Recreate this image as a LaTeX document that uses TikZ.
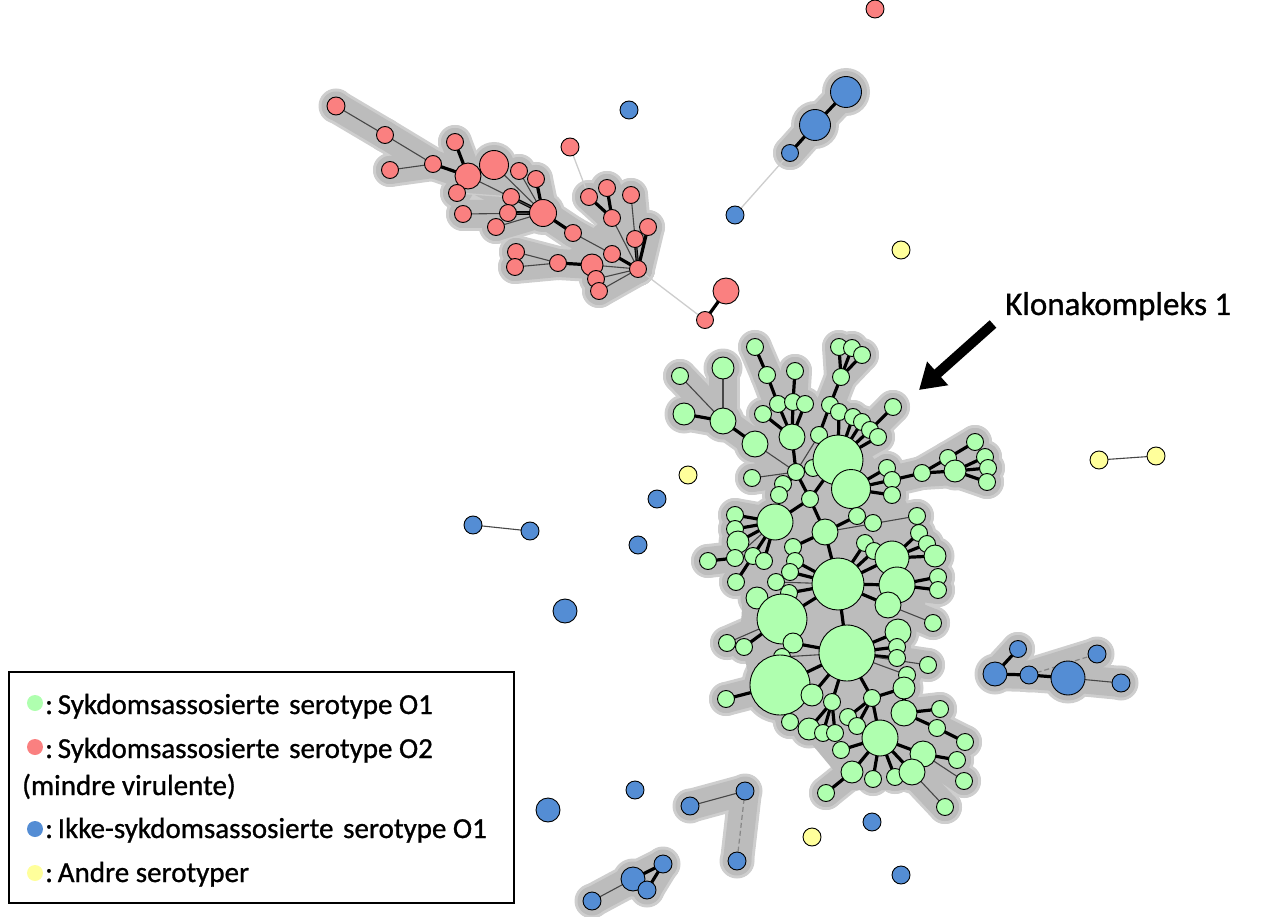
\documentclass[tikz,border=0pt]{standalone}
\usepackage{fontspec}
\setmainfont{Carlito}
\newfontfamily\heavyfont{Carlito}[FakeBold=0.9]
\usetikzlibrary{arrows.meta}
\definecolor{gfill}{RGB}{175,255,175}
\definecolor{rfill}{RGB}{250,128,128}
\definecolor{bfill}{RGB}{84,141,212}
\definecolor{yfill}{RGB}{255,255,155}
\definecolor{haloin}{RGB}{188,188,188}
\definecolor{haloout}{RGB}{206,206,206}
\definecolor{edgegray}{RGB}{70,70,70}
\definecolor{palegray}{RGB}{205,205,205}
\definecolor{dashgray}{RGB}{135,135,135}
\pgfdeclarelayer{haloA}
\pgfdeclarelayer{haloB}
\pgfdeclarelayer{edges}
\pgfsetlayers{haloA,haloB,edges,main}
\tikzset{
  nd/.style={circle, draw=black, line width=0.9pt, inner sep=0pt, outer sep=0pt},
  gn/.style={nd, fill=gfill},
  rn/.style={nd, fill=rfill},
  bn/.style={nd, fill=bfill},
  yn/.style={nd, fill=yfill},
  thk/.style={line width=3.2pt, black},
  thn/.style={line width=1.1pt, edgegray},
  pale/.style={line width=1.3pt, palegray},
  paledash/.style={line width=1.2pt, dashgray, dash pattern=on 5pt off 3pt},
  hA/.style={haloout, line width=34pt, line cap=round},
  hB/.style={haloin, line width=28pt, line cap=round},
  legtext/.style={anchor=base west, inner sep=0pt, font=\heavyfont\fontsize{29}{34}\selectfont},
}
% ---------- node lists (name/x/y/r)
\def\redH{R1/336/106/9, R2/385/135/8.5, R3/390/170/8.5, R4/433/164/8.5, R5/455/142/8.5,
 R6/468/176/13, R7/494/165/14.5, R8/457/193/8.5, R9/519/171/8.5, R10/536/179/8.5,
 R11/511/197/8.5, R12/543/213/13.5, R13/463/214/8.5, R14/508/213/8.5, R15/496/227/8.5,
 R16/573/233/8.5, R18/589/197/8.5, R19/607/188/8.5, R20/631/195/8.5, R21/612/218/8.5,
 R22/648/227/8.5, R23/635/239/8.5, R24/612/254/8.5, R25/638/269/8.5, R26/516/252/8.5,
 R27/515/267/8.5, R28/558/263/8.5, R29/592/265/11, R30/596/279/8.5, R31/599/291/8.5}
\def\redP{R17/570/147/9, R32/705/320/8.5, R33/726/291/13, R34/875/9/9}
\def\blueH{B2/846/92/15.5, B3/815/125/15.5, B4/790/153/8.5, B11/1018/649/8.5,
 B12/995/674/12, B13/1029/675/9, B14/1068/678/17, B15/1097/654/9, B16/1121/683/9,
 B19/690/806/9, B20/745/791/9, B21/737/861/9, B22/592/901/9, B23/633/879/12,
 B24/663/864/9, B25/647/890/9}
\def\blueP{B1/629/110/9, B5/735/215/9, B6/473/525/9, B7/530/531/9, B8/657/499/9,
 B9/638/545/9, B10/565/611/12, B17/548/810/12, B18/635/790/9, B26/872/822/9, B27/901/875/9}
\def\yellowP{Y1/901/250/9, Y2/688/475/9, Y3/1099/460/9, Y4/1156/456/9, Y5/812/837/9}
\def\greenH{G1/755/347/8.5, G2/680/376/8.5, G3/723/368/11, G4/684/414/11, G5/723/421/13,
 G6/767/375/8.5, G7/795/371/8.5, G8/755/444/13, G9/778/404/8.5, G10/793/402/8.5,
 G11/805/404/8.5, G12/763/414/8.5, G13/792/437/13, G14/819/435/8.5, G15/752/478/8.5,
 G16/796/472/8.5, G17/813/468/8.5, G18/783/484/8.5, G19/779/495/8.5, G20/810/499/8.5,
 G21/830/405/8.5, G22/838/460/25, G23/851/489/19.5, G24/839/347/8.5, G25/852/348/8.5,
 G26/862/355/8.5, G27/841/377/8.5, G28/839/412/8.5, G29/853/417/8.5, G30/862/422/8.5,
 G31/870/430/8.5, G32/878/437/8.5, G33/893/407/8.5, G34/887/468/8.5, G35/892/480/8.5,
 G36/892/495/8.5, G37/922/473/8.5, G38/948/458/8.5, G39/955/471/11, G40/975/442/8.5,
 G41/985/457/8.5, G42/988/468/8.5, G43/987/482/8.5, G44/775/522/18, G45/735/515/8.5,
 G46/735/529/8.5, G47/738/542/11, G48/825/532/13, G49/857/516/8.5, G50/873/523/8.5,
 G51/917/516/8.5, G52/708/561/8.5, G53/735/558/8.5, G54/753/556/8.5, G55/764/561/8.5,
 G56/736/582/8.5, G57/793/547/8.5, G58/795/561/8.5, G59/790/572/8.5, G60/776/582/8.5,
 G61/789/593/8.5, G62/757/598/11, G63/838/584/26, G64/782/619/25, G65/793/643/10,
 G66/727/643/8.5, G67/744/647/8.5, G68/847/653/28, G69/782/657/8.5, G70/919/533/8.5,
 G71/927/544/8.5, G72/935/556/11, G73/865/543/8.5, G74/874/551/8.5, G75/892/558/17,
 G76/897/585/18, G77/938/577/8.5, G78/938/590/8.5, G79/888/605/13, G80/933/623/8.5,
 G81/898/632/13, G82/897/647/8.5, G83/897/658/8.5, G84/928/665/8.5, G85/907/675/8.5,
 G86/904/688/11, G87/780/685/30, G88/872/698/8.5, G89/812/695/11, G90/832/702/8.5,
 G91/726/699/8.5, G92/790/722/8.5, G93/809/729/11, G94/823/733/8.5, G95/835/733/8.5,
 G96/848/717/8.5, G97/857/726/8.5, G98/880/738/18, G99/904/713/13, G100/940/709/8.5,
 G101/937/728/8.5, G102/965/742/8.5, G103/841/750/8.5, G104/923/754/13, G105/957/760/8.5,
 G106/852/772/11, G107/873/779/8.5, G108/895/777/8.5, G109/912/772/13, G110/964/781/8.5,
 G111/826/793/8.5, G112/945/807/8.5}
% ---------- edge lists (a/b)
\def\thkH{R4/R6, R5/R6, R6/R8, R6/R7, R10/R12, R11/R12, R14/R12, R12/R16, R24/R25,
 R18/R21, R19/R21, R22/R25, R23/R25, R28/R29,
 B2/B3, B3/B4, B11/B12, B12/B13, B13/B14, B23/B24, B24/B25,
 G1/G6, G6/G9, G7/G10, G9/G13, G10/G13, G11/G13, G12/G13, G13/G16, G4/G5, G5/G8,
 G16/G17, G16/G18, G16/G19, G16/G20, G21/G14, G24/G27, G25/G27, G26/G27, G27/G21,
 G28/G22, G29/G22, G30/G22, G31/G22, G32/G22, G33/G31, G34/G23, G35/G23, G36/G23,
 G37/G35, G37/G38, G37/G39, G38/G40, G39/G41, G39/G42, G39/G43, G20/G22, G20/G44,
 G20/G48, G48/G49, G48/G57, G48/G63, G44/G45, G44/G46, G44/G47, G44/G54, G44/G55,
 G52/G53, G56/G54, G58/G63, G59/G63, G61/G63, G62/G64, G63/G64, G73/G63, G74/G63,
 G75/G63, G76/G63, G79/G63, G70/G75, G71/G75, G72/G75, G77/G76, G78/G76, G63/G68,
 G65/G68, G87/G68, G67/G64, G81/G68, G82/G68, G83/G68, G89/G68, G90/G68, G88/G68,
 G88/G86, G86/G99, G91/G87, G92/G87, G93/G90, G94/G90, G95/G90, G96/G88, G97/G88,
 G88/G98, G99/G100, G99/G101, G101/G102, G98/G103, G98/G106, G98/G107, G98/G108,
 G98/G109, G98/G104, G104/G105, G106/G111}
\def\thnH{R1/R2, R2/R4, R3/R4, R6/R12, R7/R12, R9/R12, R13/R12, R15/R12, R16/R24,
 R21/R25, R20/R25, R26/R28, R27/R28, R29/R25, R30/R25, R31/R25,
 B14/B16, B19/B20, B22/B23,
 G2/G5, G3/G5, G8/G16, G14/G16, G15/G16, G48/G51, G44/G53, G60/G63, G79/G80,
 G69/G68, G66/G64, G84/G68, G85/G68, G104/G110, G109/G112}
\def\dashH{B13/B15, B20/B21}
\def\thkP{R32/R33}
\def\thnP{B6/B7, Y3/Y4}
\def\paleP{R8/R11, R17/R18, R25/R32, B4/B5}
\begin{document}
\begin{tikzpicture}[x=1pt,y=-1pt]
\useasboundingbox (0,0) rectangle (1282,917);
% ---------- nodes
\foreach \n/\x/\y/\r in \redH {\node[rn, minimum size=2*\r pt] (\n) at (\x,\y) {};}
\foreach \n/\x/\y/\r in \redP {\node[rn, minimum size=2*\r pt] (\n) at (\x,\y) {};}
\foreach \n/\x/\y/\r in \blueH {\node[bn, minimum size=2*\r pt] (\n) at (\x,\y) {};}
\foreach \n/\x/\y/\r in \blueP {\node[bn, minimum size=2*\r pt] (\n) at (\x,\y) {};}
\foreach \n/\x/\y/\r in \yellowP {\node[yn, minimum size=2*\r pt] (\n) at (\x,\y) {};}
\foreach \n/\x/\y/\r in \greenH {\node[gn, minimum size=2*\r pt] (\n) at (\x,\y) {};}
% ---------- halos
\begin{pgfonlayer}{haloA}
\foreach \n/\x/\y/\r in \redH {\fill[haloout] (\n.center) circle[radius=\r pt+8.5pt];}
\foreach \n/\x/\y/\r in \blueH {\fill[haloout] (\n.center) circle[radius=\r pt+8.5pt];}
\foreach \n/\x/\y/\r in \greenH {\fill[haloout] (\n.center) circle[radius=\r pt+8.5pt];}
\foreach \a/\b in \thkH {\draw[hA] (\a.center) -- (\b.center);}
\foreach \a/\b in \thnH {\draw[hA] (\a.center) -- (\b.center);}
\foreach \a/\b in \dashH {\draw[hA] (\a.center) -- (\b.center);}
\end{pgfonlayer}
\begin{pgfonlayer}{haloB}
\foreach \n/\x/\y/\r in \redH {\fill[haloin] (\n.center) circle[radius=\r pt+5.5pt];}
\foreach \n/\x/\y/\r in \blueH {\fill[haloin] (\n.center) circle[radius=\r pt+5.5pt];}
\foreach \n/\x/\y/\r in \greenH {\fill[haloin] (\n.center) circle[radius=\r pt+5.5pt];}
\foreach \a/\b in \thkH {\draw[hB] (\a.center) -- (\b.center);}
\foreach \a/\b in \thnH {\draw[hB] (\a.center) -- (\b.center);}
\foreach \a/\b in \dashH {\draw[hB] (\a.center) -- (\b.center);}
% interior fill of the large green complex
\fill[haloin] (745,440) -- (800,395) -- (860,440) -- (905,500) -- (925,540) -- (925,610)
  -- (885,690) -- (930,735) -- (905,790) -- (850,790) -- (800,730) -- (755,700)
  -- (740,640) -- (745,560) -- (770,500) -- cycle;
\fill[haloin] (600,222) -- (625,240) -- (600,262) -- (570,250) -- cycle;
\end{pgfonlayer}
% ---------- edges
\begin{pgfonlayer}{edges}
\foreach \a/\b in \thkH {\draw[thk] (\a.center) -- (\b.center);}
\foreach \a/\b in \thnH {\draw[thn] (\a.center) -- (\b.center);}
\foreach \a/\b in \dashH {\draw[paledash] (\a.center) -- (\b.center);}
\foreach \a/\b in \thkP {\draw[thk] (\a.center) -- (\b.center);}
\foreach \a/\b in \thnP {\draw[thn] (\a.center) -- (\b.center);}
\foreach \a/\b in \paleP {\draw[pale] (\a.center) -- (\b.center);}
\end{pgfonlayer}
% ---------- annotation
\node[anchor=base west, inner sep=0pt, font=\heavyfont\fontsize{33}{38}\selectfont] (klon) at (1005,315) {Klonakompleks 1};
\coordinate (arrS) at (993,324);
\coordinate (arrT) at (919,390);
\draw[line width=10pt, -{Triangle[length=25pt, width=30pt]}] (arrS) -- (arrT);
% ---------- legend
\node[draw=black, line width=2pt, minimum width=505pt, minimum height=231pt, anchor=north west, inner sep=0pt] (leg) at (8,671) {};
\node[circle, fill=gfill, minimum size=16pt, inner sep=0pt] (d1) at (35,703) {};
\node[circle, fill=rfill, minimum size=16pt, inner sep=0pt] (d2) at (35,747) {};
\node[circle, fill=bfill, minimum size=16pt, inner sep=0pt] (d3) at (35,829) {};
\node[circle, fill=yfill, minimum size=16pt, inner sep=0pt] (d4) at (35,873) {};
\node[legtext] (t1) at (45,714) {:\,Sykdomsassosierte\,\,serotype O1};
\node[legtext] (t2) at (45,758) {:\,Sykdomsassosierte\,\,serotype O2};
\node[legtext] (t3) at (22,795) {(mindre virulente)};
\node[legtext] (t4) at (45,838) {:\,Ikke-sykdomsassosierte\,\,serotype O1};
\node[legtext] (t5) at (45,882) {:\,Andre serotyper};
\end{tikzpicture}
\end{document}
